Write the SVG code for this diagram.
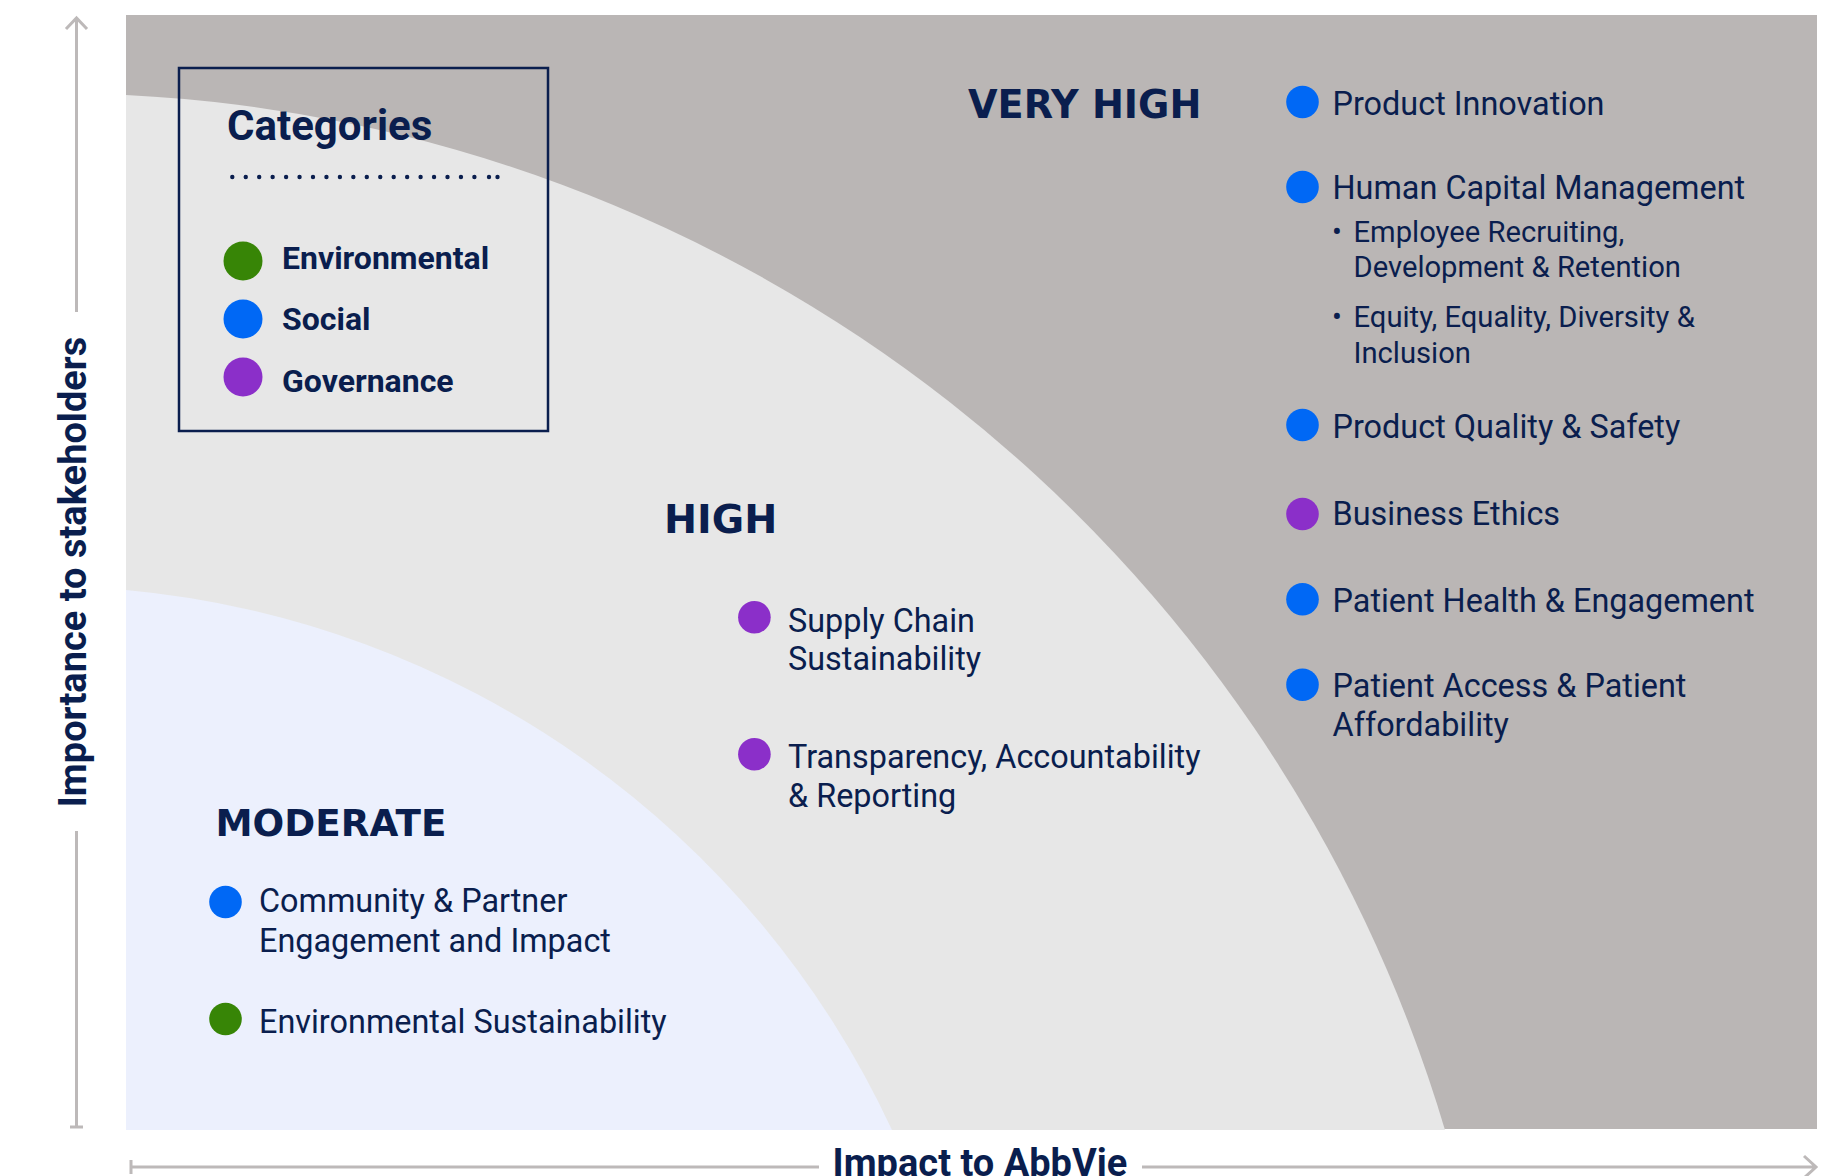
<svg xmlns="http://www.w3.org/2000/svg" width="1834" height="1176" viewBox="0 0 1834 1176">
<style>
.txt{font-family:Roboto,"Liberation Sans",sans-serif;fill:#0a1e4e}
.item{font-size:32.4px}
.sub{font-size:29.2px}
.leg{font-size:32px}
.bold{font-weight:700}
.hdr{font-family:"DejaVu Sans",Verdana,sans-serif;font-weight:700;fill:#0a1e4e}
.ds{fill:#0068f5}
.de{fill:#378506}
.dg{fill:#8b2fc9}
.axis{stroke:#bdb9b9;stroke-width:3;fill:none;stroke-linecap:butt}
</style>
<rect width="1834" height="1176" fill="#ffffff"/>
<g id="background">
<rect x="126" y="15" width="1691" height="1114" fill="#bab6b5"/>
<path d="M126,95 A1450,1450 0 0 1 1445,1130 L126,1130 Z" fill="#e7e7e7"/>
<path d="M126,590 A940,940 0 0 1 892,1130 L126,1130 Z" fill="#ecf0fd"/>
</g>
<g id="connectors">
<path class="axis" d="M76.5,312 V19 M66,29 L76.5,18 L87,29"/>
<path class="axis" d="M76.5,831 V1127 M70,1127 H83"/>
<path class="axis" d="M131,1167 H819 M131,1160 V1174"/>
<path class="axis" d="M1142,1167 H1815 M1804,1156 L1816,1167 L1804,1178"/>
</g>
<g id="axis-labels">
<text class="txt bold" font-size="38" text-anchor="middle" transform="translate(86,572) rotate(-90)">Importance to stakeholders</text>
<text class="txt bold" font-size="38" text-anchor="middle" x="980" y="1176">Impact to AbbVie</text>
</g>
<g id="legend">
<rect x="179" y="68" width="369" height="363" fill="none" stroke="#0a1e4e" stroke-width="2.5"/>
<text class="txt bold" font-size="42" x="227" y="140">Categories</text>
<path d="M232.3,177 H475" stroke="#0a1e4e" stroke-width="4.4" stroke-linecap="round" stroke-dasharray="0 13.45" fill="none"/>
<circle cx="489" cy="177" r="2.2" fill="#0a1e4e"/>
<circle cx="497.5" cy="177" r="2.2" fill="#0a1e4e"/>
<circle class="de" cx="243" cy="261" r="19.5"/>
<text class="txt bold leg" x="282" y="269">Environmental</text>
<circle class="ds" cx="243" cy="319" r="19.5"/>
<text class="txt bold leg" x="282" y="330">Social</text>
<circle class="dg" cx="243" cy="377" r="19.5"/>
<text class="txt bold leg" x="282" y="391.5">Governance</text>
</g>
<g id="very-high">
<text class="hdr" font-size="38.2" x="968" y="118.3">VERY HIGH</text>
<g id="product-innovation">
<circle class="ds" cx="1302.5" cy="102" r="16.3"/>
<text class="txt item" x="1332.5" y="115">Product Innovation</text>
</g>
<g id="human-capital">
<circle class="ds" cx="1302.5" cy="187" r="16.3"/>
<text class="txt item" x="1332.5" y="199">Human Capital Management</text>
<text class="txt sub" x="1332" y="242">•</text>
<text class="txt sub" x="1353.5" y="242">Employee Recruiting,</text>
<text class="txt sub" x="1353.5" y="277">Development &amp; Retention</text>
<text class="txt sub" x="1332" y="327">•</text>
<text class="txt sub" x="1353.5" y="327">Equity, Equality, Diversity &amp;</text>
<text class="txt sub" x="1353.5" y="363">Inclusion</text>
</g>
<g id="product-quality">
<circle class="ds" cx="1302.5" cy="425" r="16.3"/>
<text class="txt item" x="1332.5" y="438.3">Product Quality &amp; Safety</text>
</g>
<g id="business-ethics">
<circle class="dg" cx="1302.5" cy="514" r="16.3"/>
<text class="txt item" x="1332.5" y="525">Business Ethics</text>
</g>
<g id="patient-health">
<circle class="ds" cx="1302.5" cy="599.3" r="16.3"/>
<text class="txt item" x="1332.5" y="611.7">Patient Health &amp; Engagement</text>
</g>
<g id="patient-access">
<circle class="ds" cx="1302.5" cy="684.7" r="16.3"/>
<text class="txt item" x="1332.5" y="697.3">Patient Access &amp; Patient</text>
<text class="txt item" x="1332.5" y="736">Affordability</text>
</g>
</g>
<g id="high">
<text class="hdr" font-size="39.5" x="664" y="533.3">HIGH</text>
<g id="supply-chain">
<circle class="dg" cx="754.4" cy="617.3" r="16.3"/>
<text class="txt item" x="788" y="631.7">Supply Chain</text>
<text class="txt item" x="788" y="670">Sustainability</text>
</g>
<g id="transparency">
<circle class="dg" cx="754.4" cy="754.3" r="16.3"/>
<text class="txt item" x="788" y="768.3">Transparency, Accountability</text>
<text class="txt item" x="788" y="806.7">&amp; Reporting</text>
</g>
</g>
<g id="moderate">
<text class="hdr" font-size="37.3" x="215.5" y="835.7">MODERATE</text>
<g id="community">
<circle class="ds" cx="225.5" cy="902" r="16.3"/>
<text class="txt item" x="259" y="912">Community &amp; Partner</text>
<text class="txt item" x="259" y="951.5">Engagement and Impact</text>
</g>
<g id="environmental-sustainability">
<circle class="de" cx="225.5" cy="1019" r="16.3"/>
<text class="txt item" x="259" y="1033">Environmental Sustainability</text>
</g>
</g>
</svg>
